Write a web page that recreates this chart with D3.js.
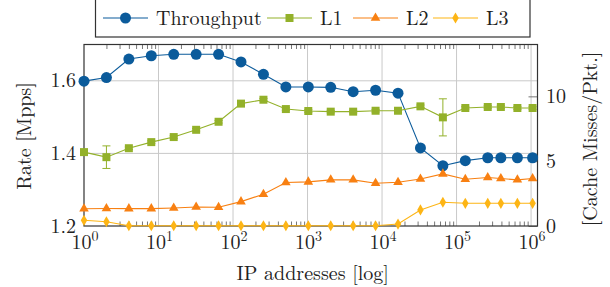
<!DOCTYPE html>
<html>
<head>
<meta charset="utf-8">
<script src="https://cdn.jsdelivr.net/npm/d3@7"></script>
<style>
  body { margin: 0; background: #fff; }
  svg { display: block; font-family: "Latin Modern Roman", "DejaVu Serif", serif; }
</style>
</head>
<body>
<svg width="610" height="287"></svg>
<script>
// data, x = number of IP addresses
const ips = [1, 2, 4, 8, 16, 32, 64, 128, 256, 512, 1024, 2048, 4096, 8192, 16384,
  32768, 65536, 131072, 262144, 393216, 655360, 1048576];
const throughput = [1.599, 1.609, 1.660, 1.669, 1.673, 1.673, 1.673, 1.652, 1.618, 1.583, 1.583,
  1.582, 1.570, 1.574, 1.566, 1.415, 1.366, 1.380, 1.388, 1.388, 1.388, 1.388];
const l1 = [5.70, 5.31, 6.0, 6.47, 6.86, 7.42, 8.04, 9.44, 9.74, 9.02, 8.87,
  8.82, 8.82, 8.89, 8.89, 9.23, 8.38, 9.10, 9.18, 9.18, 9.10, 9.10];
const l1Err = [0.1, 0.87, 0.1, 0.1, 0.1, 0.1, 0.1, 0.1, 0.1, 0.1, 0.1,
  0.1, 0.1, 0.1, 0.1, 0.1, 1.43, 0.1, 0.1, 0.1, 0.1, 0.1];
const l2 = [1.33, 1.35, 1.34, 1.34, 1.39, 1.47, 1.45, 1.88, 2.45, 3.35, 3.40,
  3.56, 3.56, 3.30, 3.38, 3.63, 4.02, 3.61, 3.74, 3.66, 3.56, 3.66];
const l3 = [0.44, 0.33, 0.02, 0.02, 0.02, 0.02, 0.02, 0.02, 0.02, 0.02, 0.02,
  0.02, 0.02, 0.02, 0.15, 1.24, 1.83, 1.75, 1.75, 1.75, 1.75, 1.75];

const decades = [1, 10, 100, 1000, 1e4, 1e5, 1e6];
const leftTicks = [1.2, 1.4, 1.6];
const rightTicks = [0, 5, 10];
const names = ["Throughput", "L1", "L2", "L3"];
const colors = { blue: "#0b5b9b", green: "#93b12a", orange: "#f88012", yellow: "#fdb515" };

const svg = d3.select("svg");
const pLeft = 84, pRight = 537.5, pTop = 44.5, pBottom = 226;

const x = d3.scaleLog().domain([1, 1.22e6]).range([pLeft, pRight]);
const yL = d3.scaleLinear().domain([1.2, 1.7]).range([pBottom, pTop]);
const yR = d3.scaleLinear().domain([0, 14]).range([pBottom, pTop]);

// minor ticks 2..9 per decade
const minors = [];
for (let d = 1; d < 1e6; d *= 10) {
  for (let k = 2; k <= 9; k++) minors.push(d * k);
}

// grid
const grid = svg.append("g").attr("stroke", "#c9c9c9").attr("stroke-width", 1);
grid.selectAll(".vg").data(decades.slice(1))
  .join("line")
  .attr("x1", d => x(d)).attr("x2", d => x(d))
  .attr("y1", pTop).attr("y2", pBottom);
grid.selectAll(".hg").data(leftTicks.slice(1))
  .join("line")
  .attr("x1", pLeft).attr("x2", pRight)
  .attr("y1", d => yL(d)).attr("y2", d => yL(d));

// x axes, ticks point inward
const axBottom = svg.append("g").attr("transform", `translate(0,${pBottom})`)
  .call(d3.axisBottom(x).tickValues(minors).tickSize(-4.5).tickFormat(""));
const axTop = svg.append("g").attr("transform", `translate(0,${pTop})`)
  .call(d3.axisTop(x).tickValues(minors).tickSize(-4.5).tickFormat(""));
const axRight = svg.append("g").attr("transform", `translate(${pRight},0)`)
  .call(d3.axisRight(yR).tickValues(rightTicks).tickSize(-9).tickFormat(""));
[axBottom, axTop, axRight].forEach(a => {
  a.select(".domain").remove();
  a.selectAll(".tick line").attr("stroke", "#777").attr("stroke-width", 1);
});

// frame
svg.append("rect")
  .attr("x", pLeft).attr("y", pTop)
  .attr("width", pRight - pLeft).attr("height", pBottom - pTop)
  .attr("fill", "none").attr("stroke", "#333").attr("stroke-width", 1.2);

// tick labels
const lbl = svg.append("g").attr("fill", "#222").attr("font-size", 20);
lbl.selectAll(".xl").data(decades)
  .join("text")
  .attr("x", d => x(d) + 1).attr("y", 249)
  .attr("text-anchor", "middle")
  .each(function (d) {
    const t = d3.select(this);
    t.append("tspan").text("10");
    t.append("tspan").attr("dy", -8).attr("font-size", 14).text(Math.round(Math.log10(d)));
  });
lbl.selectAll(".yl").data(leftTicks)
  .join("text")
  .attr("x", 76).attr("y", d => yL(d)).attr("dy", "0.33em")
  .attr("text-anchor", "end")
  .text(d3.format(".1f"));
lbl.selectAll(".yr").data(rightTicks)
  .join("text")
  .attr("x", 546).attr("y", d => yR(d)).attr("dy", "0.33em")
  .text(d => d);

// axis titles
lbl.append("text").attr("x", (pLeft + pRight) / 2 + 2).attr("y", 280)
  .attr("text-anchor", "middle").text("IP addresses [log]");
lbl.append("text").attr("transform", "translate(31,136) rotate(-90)")
  .attr("text-anchor", "middle").text("Rate [Mpps]");
lbl.append("text").attr("transform", "translate(597,139) rotate(-90)")
  .attr("text-anchor", "middle").text("[Cache Misses/Pkt.]");

// series
const series = [
  { name: names[0], vals: throughput, y: yL, color: colors.blue, sym: d3.symbolCircle, size: 95 },
  { name: names[1], vals: l1, y: yR, color: colors.green, sym: d3.symbolSquare, size: 64 },
  { name: names[2], vals: l2, y: yR, color: colors.orange, sym: d3.symbolTriangle, size: 40 },
  { name: names[3], vals: l3, y: yR, color: colors.yellow, sym: d3.symbolDiamond, size: 36 }
];

// error bars for L1
const eb = svg.append("g").attr("stroke", colors.green).attr("stroke-width", 1);
ips.forEach((ip, i) => {
  const cx = x(ip), y1 = yR(l1[i] - l1Err[i]), y2 = yR(l1[i] + l1Err[i]);
  eb.append("line").attr("x1", cx).attr("x2", cx).attr("y1", y1).attr("y2", y2);
  eb.append("line").attr("x1", cx - 4).attr("x2", cx + 4).attr("y1", y1).attr("y2", y1);
  eb.append("line").attr("x1", cx - 4).attr("x2", cx + 4).attr("y1", y2).attr("y2", y2);
});

series.forEach(s => {
  const line = d3.line().x((d, i) => x(ips[i])).y(d => s.y(d));
  const g = svg.append("g");
  g.append("path").attr("d", line(s.vals))
    .attr("fill", "none").attr("stroke", s.color).attr("stroke-width", 1.1);
  g.selectAll("path.m").data(s.vals)
    .join("path").attr("class", "m")
    .attr("transform", (d, i) => `translate(${x(ips[i])},${s.y(d)})`)
    .attr("d", d3.symbol(s.sym, s.size))
    .attr("fill", s.color);
});

// legend
const lg = svg.append("g");
lg.append("rect").attr("x", 95.5).attr("y", -1).attr("width", 434.5).attr("height", 38)
  .attr("fill", "#fff").attr("stroke", "#333").attr("stroke-width", 1.2);
const legendX = [103, 267, 353, 433];
series.forEach((s, i) => {
  const lx = legendX[i], ly = 18;
  lg.append("line").attr("x1", lx).attr("x2", lx + 45).attr("y1", ly).attr("y2", ly)
    .attr("stroke", s.color).attr("stroke-width", 1.1);
  lg.append("path").attr("transform", `translate(${lx + 22.5},${ly})`)
    .attr("d", d3.symbol(s.sym, s.size)).attr("fill", s.color);
  lg.append("text").attr("x", lx + 53).attr("y", ly).attr("dy", "0.33em")
    .attr("font-size", 20).attr("fill", "#222").text(s.name);
});
</script>
</body>
</html>
